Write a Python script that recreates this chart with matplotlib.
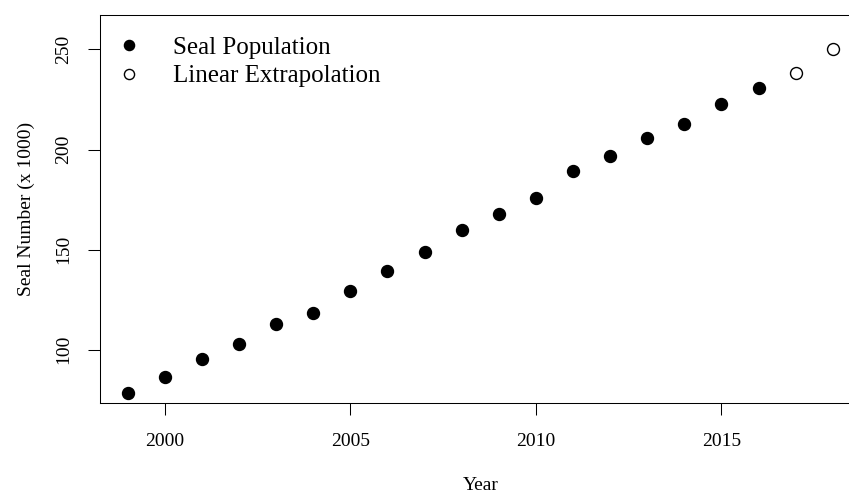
import numpy as np
import matplotlib.pyplot as plt

years = [1999, 2000, 2001, 2002, 2003, 2004, 2005, 2006, 2007,
         2008, 2009, 2010, 2011, 2012, 2013, 2014, 2015, 2016]
seals = [78.3, 86.2, 95.2, 102.9, 112.8, 118.3, 129.2, 139.2, 148.9,
         159.7, 167.9, 175.8, 189.2, 196.7, 205.9, 212.5, 222.5, 230.8]
ext_years = [2017, 2018]
ext_seals = [238.3, 250.1]

plt.rcParams['font.family'] = ['Liberation Serif', 'DejaVu Serif']

fig = plt.figure(figsize=(8.49, 4.94), dpi=100)
ax = fig.add_axes([0.1172, 0.1836, 0.8969, 0.786])

ax.plot(years, seals, 'o', color='black', markersize=8.6, label='Seal Population')
ax.plot(ext_years, ext_seals, 'o', markerfacecolor='white', markeredgecolor='black',
        markeredgewidth=1.0, markersize=8.6, label='Linear Extrapolation')

ax.set_xlim(1998.24, 2018.76)
ax.set_ylim(73.2, 267.2)
ax.set_xticks([2000, 2005, 2010, 2015])
ax.set_yticks([100, 150, 200, 250])
ax.tick_params(direction='out', length=8.5, width=0.75, labelsize=14, pad=11)
ax.tick_params(axis='x', pad=13)
ax.tick_params(axis='y', labelrotation=90)
for lab in ax.get_yticklabels():
    lab.set_va('center')
for s in ax.spines.values():
    s.set_linewidth(0.75)
ax.spines['right'].set_visible(False)

ax.set_xlabel('Year', fontsize=14, labelpad=19)
ax.set_ylabel('Seal Number (x 1000)', fontsize=14, labelpad=15)

leg = ax.legend(loc='upper left', frameon=False, fontsize=18, markerscale=0.85,
                handletextpad=1.4, borderaxespad=0.46, labelspacing=0.23,
                handlelength=0.66)

fig.savefig('out.png', dpi=100)
